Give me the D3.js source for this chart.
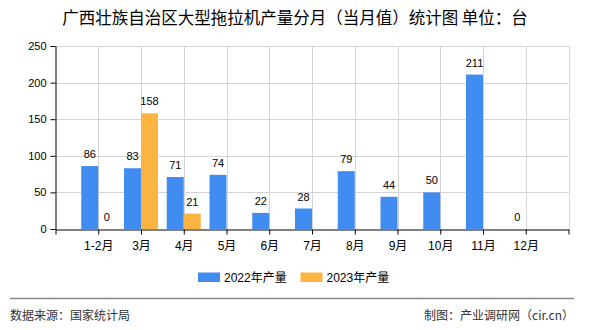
<!DOCTYPE html>
<html><head><meta charset="utf-8">
<script src="https://cdn.jsdelivr.net/npm/d3@7"></script>
<style>body{margin:0;background:#fff}svg{display:block}</style>
</head><body>
<script>
const categories = ["1-2月","3月","4月","5月","6月","7月","8月","9月","10月","11月","12月"];
const values2022 = [86,83,71,74,22,28,79,44,50,211,0];
const values2023 = [0,158,21];
const yTicks = [0,50,100,150,200,250];
const seriesNames = ["2022年产量","2023年产量"];
const colors = ["#418CF0","#FCB440"];
const title = "广西壮族自治区大型拖拉机产量分月（当月值）统计图 单位：台";

const W=590,H=330;
const svg=d3.select("body").append("svg").attr("width",W).attr("height",H);
const font="'Liberation Sans', Arial, 'Noto Sans CJK SC', sans-serif";

const x=d3.scalePoint().domain(["_s",...categories,"_e"]).range([55.5,568.5]);
const y=d3.scaleLinear().domain([0,250]).range([229,46]);
const bw=17;

// grid
const g=svg.append("g");
g.selectAll("line.h").data(yTicks.slice(1)).join("line")
  .attr("x1",55.5).attr("x2",568.5).attr("y1",d=>Math.round(y(d))+0.5).attr("y2",d=>Math.round(y(d))+0.5)
  .attr("stroke","#d4d4d4");
g.selectAll("line.v").data(x.domain().slice(1)).join("line")
  .attr("x1",d=>Math.round(x(d))+0.5).attr("x2",d=>Math.round(x(d))+0.5).attr("y1",46).attr("y2",229)
  .attr("stroke","#d4d4d4");

// bars
const bars=svg.append("g");
const s1=categories.map((c,i)=>({c,v:values2022[i]}));
const s2=values2023.map((v,i)=>({c:categories[i],v}));
bars.selectAll("rect.a").data(s1).join("rect")
  .attr("x",d=>x(d.c)-bw).attr("width",bw).attr("y",d=>y(d.v)).attr("height",d=>y(0)-y(d.v)).attr("fill",colors[0]);
bars.selectAll("rect.b").data(s2).join("rect")
  .attr("x",d=>x(d.c)).attr("width",bw).attr("y",d=>y(d.v)).attr("height",d=>y(0)-y(d.v)).attr("fill",colors[1]);
bars.selectAll("text.a").data(s1).join("text")
  .attr("x",d=>x(d.c)-bw/2).attr("y",d=>y(d.v)-8).attr("text-anchor","middle")
  .attr("font-family",font).attr("font-size",11).attr("fill","#000").text(d=>d.v);
bars.selectAll("text.b").data(s2).join("text")
  .attr("x",d=>x(d.c)+bw/2).attr("y",d=>y(d.v)-8).attr("text-anchor","middle")
  .attr("font-family",font).attr("font-size",11).attr("fill","#000").text(d=>d.v);

// axes
const ya=svg.append("g").attr("transform","translate(55.5,0)")
  .call(d3.axisLeft(y).tickValues(yTicks).tickSize(5).tickSizeOuter(0));
ya.select(".domain").attr("stroke","#000");
ya.selectAll(".tick line").attr("stroke","#000");
ya.selectAll("text").attr("font-family",font).attr("font-size",11).attr("fill","#000").attr("dx",-1);

const xa=svg.append("g").attr("transform","translate(0,229.5)")
  .call(d3.axisBottom(x).tickSize(5).tickSizeOuter(0));
xa.select(".domain").attr("stroke","#000");
xa.selectAll(".tick line").attr("stroke","#000");
xa.selectAll("text").attr("font-family",font).attr("font-size",12).attr("fill","#000").attr("dy","1.05em")
  .text(d=>d.startsWith("_")?"":d);

// title
svg.append("text").attr("x",295).attr("y",24).attr("text-anchor","middle")
  .attr("font-family","'Noto Sans CJK SC', sans-serif").attr("font-size",16.5).attr("fill","#000").text(title);

// legend
const lg=svg.append("g");
const lx=[198,300.5];
seriesNames.forEach((n,i)=>{
  lg.append("rect").attr("x",lx[i]).attr("y",272.5).attr("width",22).attr("height",9.5).attr("fill",colors[i]);
  lg.append("text").attr("x",lx[i]+26).attr("y",281.5).attr("font-family",font).attr("font-size",12).attr("fill","#000").text(n);
});

// footer
svg.append("line").attr("x1",10).attr("x2",574).attr("y1",298.5).attr("y2",298.5).attr("stroke","#888").attr("stroke-width",1.5);
svg.append("text").attr("x",10).attr("y",320).attr("font-family","'Noto Sans CJK SC', sans-serif").attr("font-size",12).attr("fill","#333").text("数据来源：国家统计局");
svg.append("text").attr("x",574).attr("y",320).attr("text-anchor","end").attr("font-family","'Noto Sans CJK SC', sans-serif").attr("font-size",12).attr("fill","#333").text("制图：产业调研网（cir.cn）");
</script>
</body></html>
